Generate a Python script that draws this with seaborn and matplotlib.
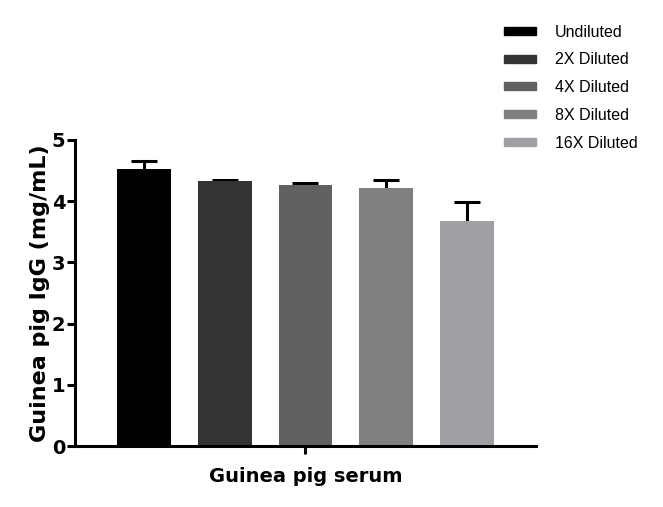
import pandas as pd
import matplotlib
matplotlib.use('Agg')
import matplotlib.pyplot as plt
import matplotlib.patches as mpatches
import seaborn as sns

# values
dilutions = ['Undiluted', '2X Diluted', '4X Diluted', '8X Diluted', '16X Diluted']
means = [4.53, 4.33, 4.27, 4.22, 3.68]
sem = [0.13, 0.02, 0.03, 0.13, 0.31]
colors = ['#000000', '#333333', '#616161', '#808080', '#a0a0a4']
group = 'Guinea pig serum'

df = pd.DataFrame({'Group': [group] * len(dilutions),
                   'Dilution': dilutions,
                   'IgG': means})

sns.set_style('ticks')
plt.rcParams['font.family'] = ['DejaVu Sans']
plt.rcParams['text.color'] = 'black'
plt.rcParams['axes.labelcolor'] = 'black'
plt.rcParams['xtick.color'] = 'black'
plt.rcParams['ytick.color'] = 'black'
plt.rcParams['axes.edgecolor'] = 'black'

fig = plt.figure(figsize=(6.63, 5.07), dpi=100)
ax = fig.add_axes([0.113, 0.1203, 0.6955, 0.6036])

sns.barplot(data=df, x='Group', y='IgG', hue='Dilution', hue_order=dilutions,
            palette=colors, errorbar=None, gap=1/3, saturation=1,
            linewidth=0, legend=False, ax=ax, zorder=3)

# error bars behind the bars so only the upper half shows
centers = [p.get_x() + p.get_width() / 2 for p in ax.patches[:len(means)]]
ax.errorbar(centers, means, yerr=sem, fmt='none',
            ecolor='black', elinewidth=2.2, capsize=9.4, capthick=2.2, zorder=2)

ax.set_xlim(-0.456, 0.456)
ax.set_ylim(0, 5)
ax.set_yticks([0, 1, 2, 3, 4, 5])
ax.set_xticks([0])
ax.set_xticklabels([''])
ax.set_xlabel('Guinea pig serum', fontsize=14, fontweight='bold', labelpad=8)
ax.set_ylabel('Guinea pig IgG (mg/mL)', fontsize=16, fontweight='bold', labelpad=1)
for lbl in ax.get_yticklabels():
    lbl.set_fontweight('bold')
ax.tick_params(axis='both', width=2.2, length=5.5, labelsize=14, pad=1.5)

sns.despine(ax=ax)
for side in ['left', 'bottom']:
    ax.spines[side].set_linewidth(2.2)
    ax.spines[side].set_zorder(4)

handles = [mpatches.Patch(color=c, label=d) for c, d in zip(colors, dilutions)]
fig.legend(handles=handles, loc='upper left', bbox_to_anchor=(0.738, 0.98),
           frameon=False, prop={'family': 'Liberation Sans', 'size': 11.5},
           handlelength=2.0, handleheight=0.4, handletextpad=1.2,
           labelspacing=0.8)

fig.savefig('out.png', dpi=100)
